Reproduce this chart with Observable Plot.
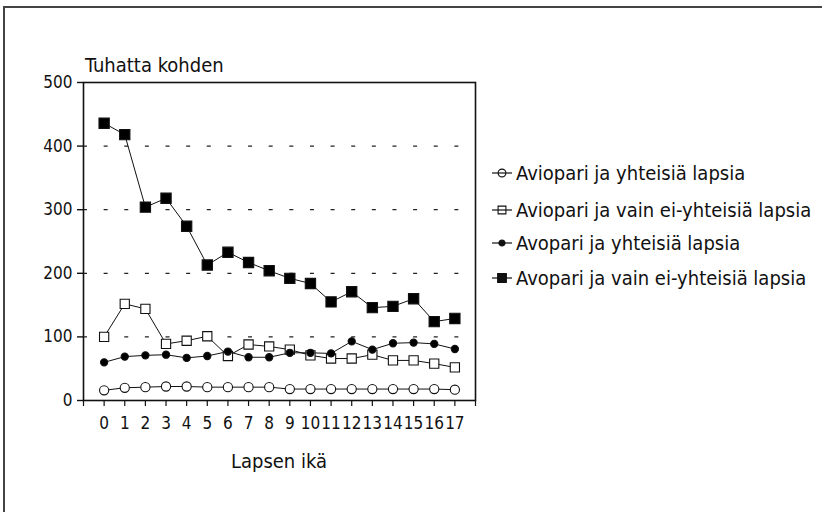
<!DOCTYPE html>
<html>
<head>
<meta charset="utf-8">
<script src="https://cdn.jsdelivr.net/npm/d3@7"></script>
<script src="https://cdn.jsdelivr.net/npm/@observablehq/plot@0.6"></script>
<style>
  html, body { margin: 0; padding: 0; background: #fff; }
  #wrap { position: relative; width: 822px; height: 512px; overflow: hidden;
          font-family: "DejaVu Sans Condensed", "DejaVu Sans", sans-serif; color: #111; }
  #border { position: absolute; left: 3px; top: 6px; width: 830px; height: 520px;
            border-left: 2px solid #444; border-top: 2px solid #444; }
  #chart { position: absolute; left: 0; top: 0; }
  .lbl { position: absolute; font-size: 20px; line-height: 20px; white-space: nowrap; }
  .leg { position: absolute; left: 491px; display: flex; align-items: center; font-size: 20px; line-height: 20px; white-space: nowrap; }
  .leg svg { margin-right: 3px; }
</style>
</head>
<body>
<div id="wrap">
  <div id="border"></div>
  <div id="chart"></div>
  <div class="lbl" style="left:85px; top:55px;">Tuhatta kohden</div>
  <div class="lbl" style="left:83px; top:451px; width:392px; text-align:center;">Lapsen ikä</div>
  <div id="legend"></div>
</div>
<script>
const ages = [0,1,2,3,4,5,6,7,8,9,10,11,12,13,14,15,16,17];
const seriesNames = [
  "Aviopari ja yhteisiä lapsia",
  "Aviopari ja vain ei-yhteisiä lapsia",
  "Avopari ja yhteisiä lapsia",
  "Avopari ja vain ei-yhteisiä lapsia"
];
const avioYhteisia = [16,20,21,22,22,21,21,21,21,18,18,18,18,18,18,18,18,17];
const avioEiYhteisia = [100,152,144,89,94,101,70,88,85,80,71,66,66,72,63,63,58,52];
const avoYhteisia = [60,69,71,72,67,70,77,68,68,75,75,74,93,80,90,91,89,81];
const avoEiYhteisia = [436,418,304,318,274,213,233,217,204,192,184,155,171,146,148,160,124,129];
const yTicks = [0,100,200,300,400,500];
const gridValues = [100,200,300,400];

const seriesValues = [avioYhteisia, avioEiYhteisia, avoYhteisia, avoEiYhteisia];
const markStyle = [
  {symbol: "circle", fill: "white", r: 4.6},
  {symbol: "square", fill: "white", r: 5.2},
  {symbol: "circle", fill: "black", r: 3.6},
  {symbol: "square", fill: "black", r: 5.8}
];
const rows = seriesValues.flatMap((vals, i) => ages.map((a, j) => ({age: a, value: vals[j], series: seriesNames[i]})));

const marks = [
  Plot.ruleY(gridValues, {stroke: "#222", strokeWidth: 1.2, strokeDasharray: "4 16.6316", strokeDashoffset: 0})
];
seriesNames.forEach((name, i) => {
  const data = rows.filter(d => d.series === name);
  marks.push(Plot.line(data, {x: "age", y: "value", stroke: "#111", strokeWidth: 1}));
});
seriesNames.forEach((name, i) => {
  const data = rows.filter(d => d.series === name);
  const s = markStyle[i];
  marks.push(Plot.dot(data, {x: "age", y: "value", symbol: s.symbol, r: s.r, fill: s.fill, stroke: "#111", strokeWidth: 1.1}));
});
marks.push(Plot.frame({stroke: "#111", strokeWidth: 1.6}));
marks.push(Plot.axisY({ticks: yTicks, tickSize: 6, tickPadding: 5, label: null, tickFormat: d => String(d), strokeWidth: 1.4}));
marks.push(Plot.axisX({ticks: [-1, ...ages, 18], tickSize: 6, tickPadding: 10, label: null,
  tickFormat: d => (d >= 0 && d <= 17 ? String(d) : ""), strokeWidth: 1.2}));

const chart = Plot.plot({
  width: 822,
  height: 512,
  marginLeft: 83,
  marginRight: 347,
  marginTop: 82,
  marginBottom: 112,
  style: {fontFamily: '"DejaVu Sans Condensed", "DejaVu Sans", sans-serif', fontSize: "17px", color: "#111", background: "transparent"},
  x: {type: "linear", domain: [-1, 18]},
  y: {type: "linear", domain: [0, 500]},
  marks
});
document.getElementById("chart").appendChild(chart);

// legend
const legend = document.getElementById("legend");
const legTops = [163, 200, 233, 268];
seriesNames.forEach((name, i) => {
  const s = markStyle[i];
  const row = document.createElement("div");
  row.className = "leg";
  row.style.top = legTops[i] + "px";
  const ns = "http://www.w3.org/2000/svg";
  const svg = document.createElementNS(ns, "svg");
  svg.setAttribute("width", 22); svg.setAttribute("height", 20);
  const line = document.createElementNS(ns, "line");
  line.setAttribute("x1", 1); line.setAttribute("x2", 21); line.setAttribute("y1", 10); line.setAttribute("y2", 10);
  line.setAttribute("stroke", "#111"); line.setAttribute("stroke-width", 1.2);
  const path = document.createElementNS(ns, "path");
  const sym = s.symbol === "circle" ? d3.symbolCircle : d3.symbolSquare;
  const rr = s.r * 0.85;
  path.setAttribute("d", d3.symbol(sym, rr * rr * Math.PI)());
  path.setAttribute("transform", "translate(11,10)");
  path.setAttribute("fill", s.fill === "white" ? "none" : "#111");
  path.setAttribute("stroke", "#111"); path.setAttribute("stroke-width", 1.1);
  svg.appendChild(line); svg.appendChild(path);
  row.appendChild(svg);
  const t = document.createElement("span");
  t.textContent = name;
  row.appendChild(t);
  legend.appendChild(row);
});
</script>
</body>
</html>
